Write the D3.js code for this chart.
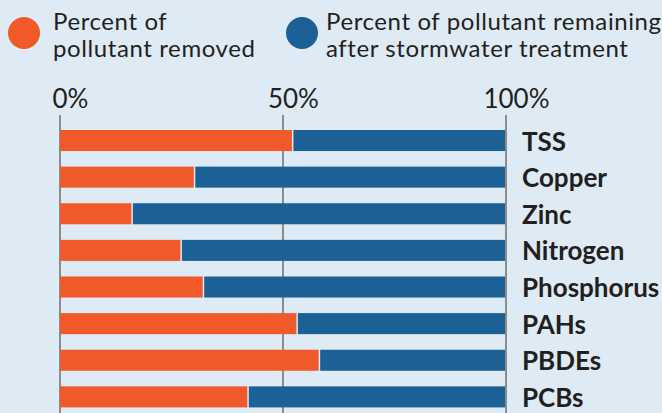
<!DOCTYPE html>
<html><head><meta charset="utf-8">
<script src="https://cdn.jsdelivr.net/npm/d3@7"></script>
<style>html,body{margin:0;padding:0;background:#deeaf4;}svg{display:block;}</style>
</head><body>
<svg id="chart" width="662" height="413"></svg>
<script>
const categories = ["TSS","Copper","Zinc","Nitrogen","Phosphorus","PAHs","PBDEs","PCBs"];
const removed = [52, 30, 16, 27, 32, 53, 58, 42];
const remaining = removed.map(v => 100 - v);
const tickValues = [0, 50, 100];
const legendLabels = [["Percent of","pollutant removed"],["Percent of pollutant remaining","after stormwater treatment"]];
const colors = ["#f05a2a", "#1b6195"];

const W = 662, H = 413;
const svg = d3.select("#chart");
svg.append("rect").attr("width", W).attr("height", H).attr("fill", "#deeaf4");
const font = "Lato, 'Open Sans', sans-serif";

const x = d3.scaleLinear().domain([0, 100]).range([60, 506]);
const y = d3.scaleBand().domain(categories).range([122.2, 415.2]).paddingInner(0.426).paddingOuter(0.213);

// gridlines
svg.append("g").selectAll("line").data(tickValues).join("line")
  .attr("x1", d => x(d)).attr("x2", d => x(d))
  .attr("y1", 115).attr("y2", H)
  .attr("stroke", "#8a8c8e").attr("stroke-width", 2);

// tick labels: number centered on tick, % trailing
const tl = svg.append("g").selectAll("text").data(tickValues).join("text")
  .attr("y", 108).attr("font-family", font).attr("font-size", 26).attr("fill", "#231f20");
tl.each(function(d) {
  const t = d3.select(this);
  const num = t.append("tspan").text(d);
  const w = num.node().getComputedTextLength();
  t.append("tspan").text("%");
  t.attr("x", x(d) - w / 2);
});

// bars
const rows = svg.append("g").selectAll("g").data(categories).join("g");
rows.append("rect")
  .attr("x", x(0)).attr("y", d => y(d))
  .attr("width", (d, i) => x(removed[i]) - x(0))
  .attr("height", y.bandwidth()).attr("fill", colors[0]);
rows.append("rect")
  .attr("x", (d, i) => x(removed[i]) + 1.5).attr("y", d => y(d))
  .attr("width", (d, i) => x(100) - x(100 - remaining[i]) - 2.5)
  .attr("height", y.bandwidth()).attr("fill", colors[1]);

// category labels
rows.append("text")
  .attr("x", 522).attr("y", d => y(d) + y.bandwidth() / 2 + 10)
  .attr("font-family", font).attr("font-weight", "bold").attr("font-size", 26)
  .attr("fill", "#231f20").text(d => d);

// legend
const legendPos = [{cx: 24, tx: 53}, {cx: 302, tx: 326}];
legendLabels.forEach((lines, i) => {
  svg.append("circle").attr("cx", legendPos[i].cx).attr("cy", 33).attr("r", 16).attr("fill", colors[i]);
  lines.forEach((s, j) => svg.append("text")
    .attr("font-family", font).attr("font-size", 24).attr("letter-spacing", 0.6)
    .attr("fill", "#231f20")
    .attr("x", legendPos[i].tx).attr("y", 30 + j * 27).text(s));
});
</script>
</body></html>
